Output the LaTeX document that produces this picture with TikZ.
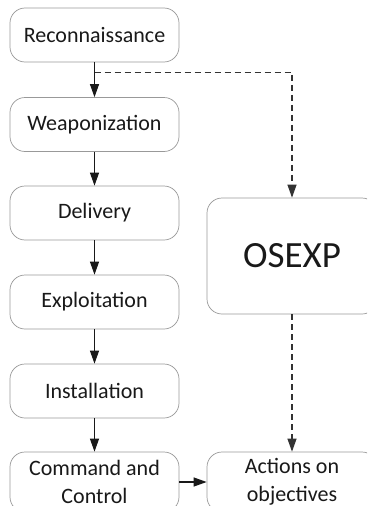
\documentclass[tikz,border=0pt]{standalone}
\usepackage{fontspec}
\setmainfont{Carlito}
\usetikzlibrary{arrows.meta,calc}
\begin{document}
\begin{tikzpicture}[x=1pt,y=-1pt,
  stage/.style={draw=black!40, line width=0.7pt, rounded corners=15pt, minimum width=169pt, minimum height=54pt, inner sep=0pt, align=center, font=\fontsize{22}{28}\selectfont, text=black!90},
  arr/.style={line width=1.1pt, draw=black!90, -{Triangle[width=9pt,length=13pt]}},
  darr/.style={arr, draw=black!80, dash pattern=on 6pt off 4pt}]
\clip (0,0) rectangle (367,506);
\fill[white] (0,0) rectangle (367,506);
\node[stage] (rec) at (94.5,35) {Reconnaissance};
\node[stage] (wea) at (94.5,124.5) {Weaponization};
\node[stage] (del) at (94.5,213) {Delivery};
\node[stage] (exp) at (94.5,302) {Exploitation};
\node[stage] (ins) at (94.5,391) {Installation};
\node[stage, minimum height=60pt] (cc) at (94.5,482) {Command and\\Control};
\node[stage, minimum width=170pt, minimum height=116pt, font=\fontsize{37}{40}\selectfont] (os) at (292,256) {OSEXP};
\node[stage, minimum width=170pt, minimum height=60pt] (act) at (292,482) {Actions on\\objectives};
\draw[arr] (rec) -- (wea);
\draw[arr] (wea) -- (del);
\draw[arr] (del) -- (exp);
\draw[arr] (exp) -- (ins);
\draw[arr] (ins) -- (cc);
\draw[arr] (cc.east) -- (act.west);
\coordinate (br) at ($(rec.south)+(0,10)$);
\draw[darr] (br) -| (os.north);
\draw[darr] (os) -- (act);
\end{tikzpicture}
\end{document}
